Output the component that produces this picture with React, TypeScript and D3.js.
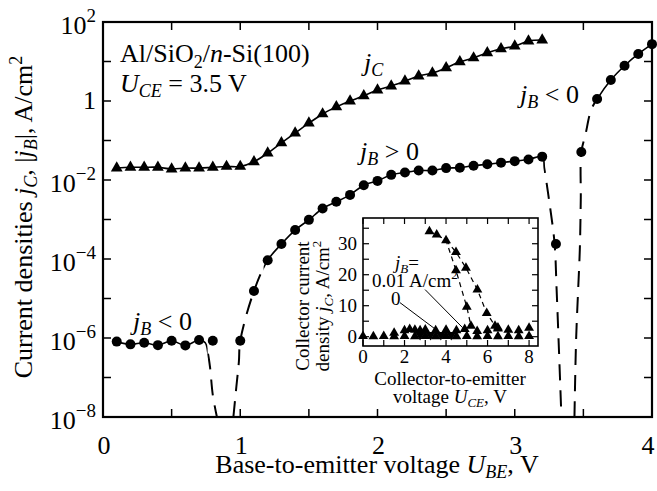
import React from 'react';
import * as d3 from 'd3';

const W = 657;
const H = 491;
const FONT = "'Liberation Serif', 'Times New Roman', serif";

// ---- main panel: base-to-emitter voltage (V) vs current density (A/cm^2) ----
const ubeC = [0.1, 0.2, 0.3, 0.4, 0.5, 0.6, 0.7, 0.8, 0.9, 1.0, 1.1, 1.2, 1.3, 1.4, 1.5, 1.6,
  1.7, 1.8, 1.9, 2.0, 2.1, 2.2, 2.3, 2.4, 2.5, 2.6, 2.7, 2.8, 2.9, 3.0, 3.1, 3.2];
const jC = [0.020, 0.021, 0.021, 0.021, 0.019, 0.020, 0.020, 0.021, 0.022, 0.022, 0.029, 0.048,
  0.087, 0.155, 0.275, 0.47, 0.71, 1.0, 1.35, 1.9, 2.4, 3.2, 4.3, 5.1, 6.9, 9.8, 12.3, 16.6,
  21, 24.5, 33, 35];

const ubeB = [0.1, 0.2, 0.3, 0.4, 0.5, 0.6, 0.7, 0.8,
  1.0, 1.1, 1.2, 1.3, 1.4, 1.5, 1.6, 1.7, 1.8, 1.9, 2.0, 2.1, 2.2, 2.3, 2.4, 2.5, 2.6, 2.7,
  2.8, 2.9, 3.0, 3.1, 3.2,
  3.3,
  3.485, 3.6, 3.7, 3.8, 3.9, 4.0];
const jB = [8.1e-7, 6.9e-7, 7.6e-7, 6.6e-7, 8.5e-7, 6.5e-7, 8.9e-7, 8.5e-7,
  8.5e-7, 1.55e-5, 9.3e-5, 2.4e-4, 5.4e-4, 9.8e-4, 1.9e-3, 2.8e-3, 4.2e-3, 7.4e-3, 9.5e-3,
  1.35e-2, 1.55e-2, 1.74e-2, 1.74e-2, 2.0e-2, 2.05e-2, 2.3e-2, 2.5e-2, 2.75e-2, 3.0e-2,
  3.3e-2, 3.9e-2,
  2.4e-4,
  5.1e-2, 1.12, 3.4, 7.8, 15.5, 27.5];

// extra points of the drawn fit curves (where they dive to the sign change)
const dropLeftU = [0.745, 0.765, 0.78, 0.8, 0.83];
const dropLeftJ = [7.6e-7, 4.0e-7, 1.8e-7, 3.6e-8, 1e-8];
const riseLeftU = [0.95, 0.972, 0.99];
const riseLeftJ = [1e-8, 6e-8, 2.5e-7];
const dropRightU = [3.215, 3.25, 3.29, 3.305, 3.322, 3.34];
const dropRightJ = [2.0e-2, 3.1e-3, 2.5e-4, 1.7e-5, 5e-7, 1e-8];
const riseRightU = [3.435, 3.447, 3.462, 3.474, 3.481];
const riseRightJ = [1e-8, 9e-7, 1.7e-5, 1.7e-4, 3.1e-3];
const bendRightU = [3.515, 3.556];
const bendRightJ = [0.14, 0.59];

const decades = [-8, -7, -6, -5, -4, -3, -2, -1, 0, 1, 2];
const decadeLabels = [-8, -6, -4, -2, 0, 2];
const xTicks = [0, 0.5, 1, 1.5, 2, 2.5, 3, 3.5, 4];
const xLabels = [0, 1, 2, 3, 4];

// ---- inset: collector-to-emitter voltage (V) vs collector current density ----
const uceUp = [3.2, 3.55, 4.0, 4.48, 4.96, 5.51, 5.96, 6.36, 6.5];
const jcUp = [34.0, 32.9, 31.1, 27.3, 22.2, 15.2, 7.6, 3.5, 2.9];
const uceSteep = [4.48, 5.0, 5.2];
const jcSteep = [21.4, 9.6, 3.5];
const uceRow = [1.5, 2.0, 2.25, 2.5, 2.75, 3.0, 3.5, 4.0, 4.5, 4.9, 5.5, 6.0, 6.5, 7.0, 7.5, 8.0];
const jcRow = [1.2, 2.0, 2.4, 2.2, 2.0, 2.3, 2.0, 2.2, 2.0, 2.4, 1.8, 2.0, 2.6, 2.2, 2.0, 2.8];
const uceZero = [0, 0.5, 1, 1.5, 2, 2.5, 3, 3.5, 4, 4.5, 5, 5.5, 6, 6.5, 7, 7.5, 8];
const jcZero = [0.2, 0.1, 0.2, 0.1, 0.2, 0.1, 0.2, 0.1, 0.2, 0.1, 0.2, 0.1, 0.2, 0.1, 0.2, 0.1, 0.2];
const uceInv = [2.75, 3.25, 3.75, 4.25];
const jcInv = [0.6, 0.6, 0.6, 0.6];
const pointer001 = [[2.99, 15.2], [4.8, 2.9]];
const pointer0 = [[1.78, 11], [3.95, 0.1]];
const insetXTicks = [0, 1, 2, 3, 4, 5, 6, 7, 8];
const insetXLabels = [0, 2, 4, 6, 8];
const insetYTicks = [0, 5, 10, 15, 20, 25, 30, 35];
const insetYLabels = [0, 10, 20, 30];

const xMain = d3.scaleLinear().domain([0, 4]).range([103, 652]);
const yMain = d3.scaleLog().domain([1e-8, 1e2]).range([417, 22]);
const xIn = d3.scaleLinear().domain([0, 8.43]).range([363, 538]);
const yIn = d3.scaleLinear().domain([-3, 38.3]).range([346, 218]);

const zip = (a: number[], b: number[]) => a.map((v, i) => [v, b[i]] as [number, number]);

const mainLine = d3.line<[number, number]>()
  .x(d => xMain(d[0]))
  .y(d => yMain(d[1]))
  .curve(d3.curveCatmullRom.alpha(0.5));

const insetLine = d3.line<[number, number]>()
  .x(d => xIn(d[0]))
  .y(d => yIn(d[1]));

const bigTri = d3.symbol(d3.symbolTriangle, 60)();
const smallTri = d3.symbol(d3.symbolTriangle, 42)();

const ptsB = zip(ubeB, jB);
const fitA = [...ptsB.slice(0, 7), ...zip(dropLeftU, dropLeftJ)];
const fitB = [...zip(riseLeftU, riseLeftJ), ...ptsB.slice(8, 31), ...zip(dropRightU, dropRightJ)];
const fitC = [...zip(riseRightU, riseRightJ), ptsB[32], ...zip(bendRightU, bendRightJ), ...ptsB.slice(33)];

const fits = [
  { id: 'fa', pts: fitA, solid: [[0, 0.762]], dashed: [[0.762, 4.2]] },
  { id: 'fb', pts: fitB, solid: [[1.17, 3.212]], dashed: [[0, 1.17], [3.212, 4.2]] },
  { id: 'fc', pts: fitC, solid: [[3.595, 4.2]], dashed: [[0, 3.595]] },
];

function clipRects(ranges: number[][]) {
  return ranges.map((r, i) => (
    <rect key={i} x={xMain(r[0])} y={0} width={xMain(r[1]) - xMain(r[0])} height={H} />
  ));
}

// subscript followed by the rest of the line, back on the baseline
function sub(s: string, rest: string, size = 18, dy = 5, italic = true) {
  return [
    <tspan key="s" dy={dy} fontSize={size} fontStyle={italic ? 'italic' : 'normal'}>{s}</tspan>,
    <tspan key="r" dy={-dy}>{rest}</tspan>,
  ];
}

export default function App() {
  const inL = xIn.range()[0], inR = xIn.range()[1];
  const inT = yIn.range()[1], inB = yIn.range()[0];
  return (
    <svg width={W} height={H} style={{ position: 'absolute', left: 0, top: 0, background: '#fff' }}
      fontFamily={FONT} fill="#000">
      <defs>
        {fits.map(f => (
          <React.Fragment key={f.id}>
            <clipPath id={f.id + '-s'}>{clipRects(f.solid)}</clipPath>
            <clipPath id={f.id + '-d'}>{clipRects(f.dashed)}</clipPath>
          </React.Fragment>
        ))}
      </defs>
      <rect width={W} height={H} fill="#fff" />

      {/* main frame and ticks */}
      <rect x={103} y={22} width={652 - 103} height={417 - 22} fill="none" stroke="#000" strokeWidth={2.2} />
      {xTicks.map(t => (
        <g key={'xt' + t} stroke="#000" strokeWidth={1.5}>
          <line x1={xMain(t)} x2={xMain(t)} y1={417} y2={409} />
          <line x1={xMain(t)} x2={xMain(t)} y1={22} y2={30} />
        </g>
      ))}
      {decades.map(d => (
        <g key={'yt' + d} stroke="#000" strokeWidth={1.5}>
          <line x1={103} x2={111} y1={yMain(Math.pow(10, d))} y2={yMain(Math.pow(10, d))} />
          <line x1={652} x2={644} y1={yMain(Math.pow(10, d))} y2={yMain(Math.pow(10, d))} />
        </g>
      ))}
      {xLabels.map(t => (
        <text key={'xl' + t} x={Math.min(xMain(t) + 1, 648)} y={454} fontSize={26} textAnchor="middle">{t}</text>
      ))}
      {decadeLabels.map(d => (
        d === 0 ? (
          <text key={'yl' + d} x={96} y={yMain(1) + 8} fontSize={26} textAnchor="end">1</text>
        ) : (
          <text key={'yl' + d} x={96} y={yMain(Math.pow(10, d)) + 12} fontSize={26} textAnchor="end">
            10<tspan dy={-12} fontSize={19}>{d < 0 ? '\u2212' + Math.abs(d) : String(d)}</tspan>
          </text>
        )
      ))}

      {/* axis titles */}
      <text x={377} y={473} fontSize={26} textAnchor="middle">
        Base-to-emitter voltage <tspan fontStyle="italic">U</tspan>{sub('BE', ', V')}
      </text>
      <text transform="translate(32,217) rotate(-90)" fontSize={26} textAnchor="middle">
        Current densities <tspan fontStyle="italic">j</tspan>{sub('C', ', |')}<tspan fontStyle="italic">j</tspan>{sub('B', '|, A/cm')}<tspan dy={-10} fontSize={18}>2</tspan>
      </text>

      {/* fit curves */}
      {fits.map(f => (
        <g key={'fit' + f.id} fill="none" stroke="#000">
          <path d={mainLine(f.pts as any) || ''} clipPath={`url(#${f.id}-s)`} strokeWidth={1.6} />
          <path d={mainLine(f.pts as any) || ''} clipPath={`url(#${f.id}-d)`} strokeWidth={2} strokeDasharray="16 10" />
        </g>
      ))}
      <path d={mainLine(zip(ubeC, jC)) || ''} fill="none" stroke="#000" strokeWidth={1.6} />

      {/* markers */}
      {ubeC.map((u, i) => (
        <path key={'c' + i} d={bigTri || ''} transform={`translate(${xMain(u)},${yMain(jC[i])})`} />
      ))}
      {ubeB.map((u, i) => (
        <circle key={'b' + i} cx={xMain(u)} cy={yMain(jB[i])} r={5} />
      ))}

      {/* annotations */}
      <text x={120} y={62} fontSize={26}>
        Al/SiO{sub('2', '/', 18, 6, false)}<tspan fontStyle="italic">n</tspan>-Si(100)
      </text>
      <text x={120} y={92} fontSize={26}>
        <tspan fontStyle="italic">U</tspan>{sub('CE', ' = 3.5 V')}
      </text>
      <text x={364} y={71} fontSize={26}>
        <tspan fontStyle="italic">j</tspan><tspan dy={5} fontSize={18} fontStyle="italic">C</tspan>
      </text>
      <text x={360} y={160} fontSize={26}>
        <tspan fontStyle="italic">j</tspan>{sub('B', ' > 0')}
      </text>
      <text x={520} y={103} fontSize={26}>
        <tspan fontStyle="italic">j</tspan>{sub('B', ' < 0')}
      </text>
      <text x={133} y={330} fontSize={26}>
        <tspan fontStyle="italic">j</tspan>{sub('B', ' < 0')}
      </text>

      {/* inset */}
      <rect x={inL} y={inT} width={inR - inL} height={inB - inT} fill="#fff" stroke="#000" strokeWidth={1.6} />
      {insetXTicks.map(t => (
        <g key={'ixt' + t} stroke="#000" strokeWidth={1.2}>
          <line x1={xIn(t)} x2={xIn(t)} y1={inB} y2={inB - 6} />
          <line x1={xIn(t)} x2={xIn(t)} y1={inT} y2={inT + 6} />
        </g>
      ))}
      {insetYTicks.map(t => (
        <g key={'iyt' + t} stroke="#000" strokeWidth={1.2}>
          <line x1={inL} x2={inL + 6} y1={yIn(t)} y2={yIn(t)} />
          <line x1={inR} x2={inR - 6} y1={yIn(t)} y2={yIn(t)} />
        </g>
      ))}
      {insetXLabels.map(t => (
        <text key={'ixl' + t} x={xIn(t)} y={363} fontSize={19} textAnchor="middle">{t}</text>
      ))}
      {insetYLabels.map(t => (
        <text key={'iyl' + t} x={357} y={yIn(t) + 6} fontSize={19} textAnchor="end">{t}</text>
      ))}
      <text x={450} y={385} fontSize={19} textAnchor="middle">Collector-to-emitter</text>
      <text x={450} y={403} fontSize={19} textAnchor="middle">
        voltage <tspan fontStyle="italic">U</tspan>{sub('CE', ', V', 13, 4)}
      </text>
      <text transform="translate(309,306) rotate(-90)" fontSize={19} textAnchor="middle">Collector current</text>
      <text transform="translate(329,306) rotate(-90)" fontSize={19} textAnchor="middle">
        density <tspan fontStyle="italic">j</tspan>{sub('C', ', A/cm', 13, 4)}<tspan dy={-8} fontSize={13}>2</tspan>
      </text>

      <g fill="none" stroke="#000" strokeWidth={1.2} strokeDasharray="5 4">
        <path d={insetLine([...zip(uceUp, jcUp).slice(0, 3), ...zip(uceSteep, jcSteep)]) || ''} />
        <path d={insetLine(zip(uceUp, jcUp).slice(2)) || ''} />
      </g>
      <g stroke="#000" strokeWidth={1}>
        <path d={insetLine(pointer001 as any) || ''} />
        <path d={insetLine(pointer0 as any) || ''} />
      </g>
      {uceZero.map((u, i) => (
        <path key={'z' + i} d={smallTri || ''} transform={`translate(${xIn(u)},${yIn(jcZero[i])})`} />
      ))}
      {uceInv.map((u, i) => (
        <path key={'v' + i} d={smallTri || ''} transform={`translate(${xIn(u)},${yIn(jcInv[i])}) rotate(180)`} />
      ))}
      {uceRow.map((u, i) => (
        <path key={'r' + i} d={smallTri || ''} transform={`translate(${xIn(u)},${yIn(jcRow[i])})`} />
      ))}
      {uceUp.map((u, i) => (
        <path key={'u' + i} d={smallTri || ''} transform={`translate(${xIn(u)},${yIn(jcUp[i])})`} />
      ))}
      {uceSteep.map((u, i) => (
        <path key={'s' + i} d={smallTri || ''} transform={`translate(${xIn(u)},${yIn(jcSteep[i])})`} />
      ))}

      <text x={395} y={269} fontSize={19}>
        <tspan fontStyle="italic">j</tspan>{sub('B', '=', 13, 4)}
      </text>
      <text x={372} y={287} fontSize={19}>
        0.01 A/cm<tspan dy={-8} fontSize={13}>2</tspan>
      </text>
      <text x={391} y={305} fontSize={19}>0</text>
    </svg>
  );
}
